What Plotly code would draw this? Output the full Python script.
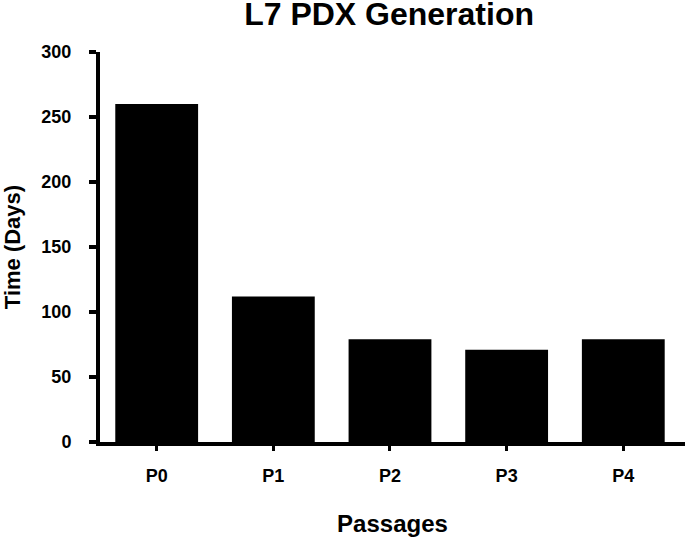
import plotly.graph_objects as go

# passage labels and time to generate each PDX passage (days)
passages = ["P0", "P1", "P2", "P3", "P4"]
days = [260, 112, 79, 71, 79]
y_ticks = [0, 50, 100, 150, 200, 250, 300]

FONT = "Liberation Sans, Arial, sans-serif"

fig = go.Figure(
    go.Bar(
        x=passages,
        y=days,
        marker=dict(color="black", line=dict(width=0)),
    )
)

fig.update_layout(
    width=685,
    height=537,
    margin=dict(l=100, r=0, t=52, b=95),
    paper_bgcolor="white",
    plot_bgcolor="white",
    bargap=0.29,
    showlegend=False,
    font=dict(family=FONT, color="black"),
    title=dict(
        text="<b>L7 PDX Generation</b>",
        font=dict(size=32, family=FONT, color="black"),
        x=0.568,
        xanchor="center",
        y=0.974,
        yanchor="middle",
    ),
)

fig.update_xaxes(
    range=[-0.486, 4.529],
    automargin=False,
    showline=True,
    linecolor="black",
    linewidth=4,
    ticks="outside",
    ticklen=5,
    tickwidth=3,
    tickcolor="black",
    tickfont=dict(size=18, family=FONT),
    ticklabelstandoff=9,
    tickprefix="<b>",
    ticksuffix="</b>",
    showgrid=False,
    zeroline=False,
    title=dict(text="<b>Passages</b>", font=dict(size=24, family=FONT), standoff=35),
)

fig.update_yaxes(
    range=[0, 300],
    automargin=False,
    tickvals=y_ticks,
    ticktext=[f"<b>{v}</b>" for v in y_ticks],
    showline=True,
    linecolor="black",
    linewidth=4,
    ticks="outside",
    ticklen=7,
    tickwidth=4,
    tickcolor="black",
    tickfont=dict(size=18, family=FONT),
    ticklabelstandoff=14,
    showgrid=False,
    zeroline=False,
    title=dict(text="<b>Time (Days)</b>", font=dict(size=22, family=FONT), standoff=31),
)

# drop the browser's default body margin so the figure sits at the page corner
fig.write_html(
    "out.html",
    config={"displayModeBar": False},
    post_script="document.body.style.margin = '0';",
)
